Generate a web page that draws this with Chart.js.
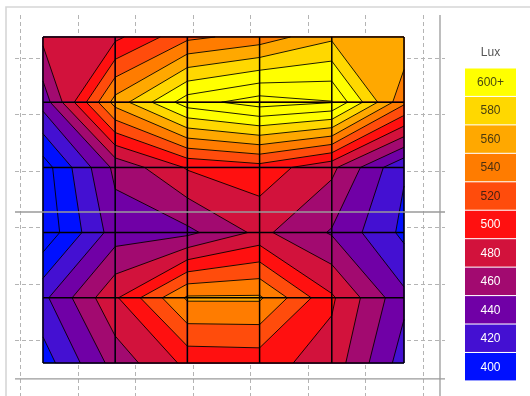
<!DOCTYPE html>
<html>
<head>
<meta charset="utf-8">
<script src="https://cdn.jsdelivr.net/npm/chart.js@4.4.1/dist/chart.umd.min.js"></script>
<style>
html,body{margin:0;padding:0;background:#ffffff;}
canvas{display:block;}
</style>
</head>
<body>
<canvas id="c" width="530" height="396"></canvas>
<script>
// ---- data ----
const colPos = [0, 1, 2, 3, 4, 5];
const rowPos = [0, 1, 2, 3, 4, 5];
const luxRow0 = [485, 495, 535, 548, 576, 575];
const luxRow1 = [448, 568, 631, 650, 641, 545];
const luxRow2 = [390, 465, 502, 512, 485, 422];
const luxRow3 = [385, 450, 455, 485, 458, 415];
const luxRow4 = [435, 497, 563, 563, 503, 445];
const luxRow5 = [410, 468, 505, 507, 492, 430];
const luxRows = [luxRow0, luxRow1, luxRow2, luxRow3, luxRow4, luxRow5];

const bandLevels = [400, 420, 440, 460, 480, 500, 520, 540, 560, 580, 600];
const bandLabels = ['400', '420', '440', '460', '480', '500', '520', '540', '560', '580', '600+'];
const bandColors = ['#0010ff', '#4410d2', '#7000a6', '#a20a70', '#d2123c', '#ff1010', '#ff4c0c', '#ff7c00', '#ffa800', '#ffd800', '#ffff00'];
const bandTextColors = ['#ffffff', '#ffffff', '#ffffff', '#ffffff', '#ffffff', '#ffffff', '#4a2010', '#4a3010', '#4a3a10', '#4a4010', '#4a4a10'];
const contourLevels = [400, 420, 440, 460, 480, 500, 520, 540, 560, 580, 600, 620, 640, 660];
const legendTitle = 'Lux';

// points for the library (invisible nodes)
const nodePoints = [];
rowPos.forEach((r, j) => colPos.forEach((c, i) => nodePoints.push({x: c, y: r, v: luxRows[j][i]})));

function clipPoly(poly, level, keepAbove) {
  const out = [];
  for (let i = 0; i < poly.length; i++) {
    const a = poly[i], b = poly[(i + 1) % poly.length];
    const ina = keepAbove ? a.v >= level : a.v <= level;
    const inb = keepAbove ? b.v >= level : b.v <= level;
    if (ina) out.push(a);
    if (ina !== inb) {
      const t = (level - a.v) / (b.v - a.v);
      out.push({x: a.x + t * (b.x - a.x), y: a.y + t * (b.y - a.y), v: level, cut: true});
    }
  }
  return out;
}

const contourPlugin = {
  id: 'contour',
  beforeDatasetsDraw(chart, args, opts) {
    const ctx = chart.ctx;
    const xs = chart.scales.x, ys = chart.scales.y;
    const gx = chart.scales.gx, gy = chart.scales.gy;
    const ca = chart.chartArea;
    ctx.save();
    // outer frame
    ctx.strokeStyle = '#d6d6d6';
    ctx.lineWidth = 1.6;
    ctx.beginPath();
    ctx.moveTo(ca.left - 9, chart.height);
    ctx.lineTo(ca.left - 9, ca.top - 8);
    ctx.lineTo(chart.width, ca.top - 8);
    ctx.stroke();

    // dashed grid
    ctx.strokeStyle = '#b4b4b4';
    ctx.lineWidth = 1;
    ctx.setLineDash([4, 3]);
    opts.gridX.forEach(v => {
      const p = Math.round(gx.getPixelForValue(v)) + 0.5;
      ctx.beginPath(); ctx.moveTo(p, ca.top); ctx.lineTo(p, ca.bottom); ctx.stroke();
    });
    opts.gridY.forEach(v => {
      const p = Math.round(gy.getPixelForValue(v)) + 0.5;
      ctx.beginPath(); ctx.moveTo(ca.left, p); ctx.lineTo(ca.right, p); ctx.stroke();
    });
    ctx.setLineDash([]);

    const P = (i, j) => ({x: xs.getPixelForValue(colPos[i]), y: ys.getPixelForValue(rowPos[j]), v: luxRows[j][i]});
    const fillPoly = (poly, color) => {
      if (poly.length < 3) return;
      ctx.fillStyle = color;
      ctx.strokeStyle = color;
      ctx.lineWidth = 0.6;
      ctx.beginPath();
      ctx.moveTo(poly[0].x, poly[0].y);
      for (let k = 1; k < poly.length; k++) ctx.lineTo(poly[k].x, poly[k].y);
      ctx.closePath();
      ctx.fill();
      ctx.stroke();
    };
    // filled bands
    for (let j = 0; j < rowPos.length - 1; j++) {
      for (let i = 0; i < colPos.length - 1; i++) {
        const quad = [P(i, j), P(i + 1, j), P(i + 1, j + 1), P(i, j + 1)];
        fillPoly(quad, bandColors[0]);
        for (let b = 1; b < bandLevels.length; b++) {
          fillPoly(clipPoly(quad, bandLevels[b], true), bandColors[b]);
        }
      }
    }
    // contour lines
    ctx.strokeStyle = 'rgba(0,0,0,0.88)';
    ctx.lineWidth = 1;
    ctx.beginPath();
    for (let j = 0; j < rowPos.length - 1; j++) {
      for (let i = 0; i < colPos.length - 1; i++) {
        const quad = [P(i, j), P(i + 1, j), P(i + 1, j + 1), P(i, j + 1)];
        contourLevels.forEach(L => {
          const poly = clipPoly(quad, L, true);
          for (let k = 0; k < poly.length; k++) {
            const a = poly[k], b = poly[(k + 1) % poly.length];
            if (a.cut && b.cut && poly.length > 2) {
              ctx.moveTo(a.x, a.y); ctx.lineTo(b.x, b.y);
            }
          }
        });
      }
    }
    ctx.stroke();

    // cell grid
    ctx.strokeStyle = '#000000';
    ctx.lineWidth = 1.5;
    const x0 = xs.getPixelForValue(colPos[0]), x1 = xs.getPixelForValue(colPos[colPos.length - 1]);
    const y0 = ys.getPixelForValue(rowPos[0]), y1 = ys.getPixelForValue(rowPos[rowPos.length - 1]);
    ctx.beginPath();
    colPos.forEach(c => { const p = xs.getPixelForValue(c); ctx.moveTo(p, y0); ctx.lineTo(p, y1); });
    rowPos.forEach(r => { const p = ys.getPixelForValue(r); ctx.moveTo(x0, p); ctx.lineTo(x1, p); });
    ctx.stroke();

    // solid panel lines
    ctx.strokeStyle = '#9a9a9a';
    ctx.lineWidth = 1.3;
    opts.solidY.forEach(v => {
      const p = gy.getPixelForValue(v);
      ctx.beginPath(); ctx.moveTo(ca.left, p); ctx.lineTo(ca.right, p); ctx.stroke();
    });
    opts.solidX.forEach(v => {
      const p = gx.getPixelForValue(v);
      ctx.beginPath(); ctx.moveTo(p, ca.top); ctx.lineTo(p, ca.bottom); ctx.stroke();
    });
    ctx.restore();
  },
  afterDraw(chart, args, opts) {
    const ctx = chart.ctx;
    const L = opts.legend;
    ctx.save();
    ctx.textAlign = 'center';
    ctx.textBaseline = 'middle';
    ctx.font = '12px "Liberation Sans", Arial, sans-serif';
    ctx.fillStyle = '#555555';
    ctx.fillText(legendTitle, L.x + L.w / 2, L.titleY);
    const n = bandLabels.length;
    for (let k = 0; k < n; k++) {
      const b = n - 1 - k;
      const top = L.top + k * L.pitch;
      ctx.fillStyle = bandColors[b];
      ctx.fillRect(L.x, top, L.w, L.h);
      ctx.fillStyle = bandTextColors[b];
      ctx.fillText(bandLabels[b], L.x + L.w / 2, top + L.h / 2 + 0.5);
    }
    ctx.restore();
  }
};

new Chart(document.getElementById('c'), {
  type: 'scatter',
  data: {
    datasets: [{
      label: 'Lux',
      data: nodePoints,
      pointRadius: 0,
      pointHoverRadius: 0,
      showLine: false
    }]
  },
  options: {
    responsive: false,
    animation: false,
    devicePixelRatio: 1,
    events: [],
    layout: {padding: {left: 15, top: 15, right: 85, bottom: 0}},
    scales: {
      x: {type: 'linear', display: false, min: -0.3878, max: 5.568},
      y: {type: 'linear', display: false, reverse: true, min: -0.3374, max: 5.506},
      gx: {type: 'linear', axis: 'x', position: 'bottom', display: false, min: -0.087, max: 7.391},
      gy: {type: 'linear', axis: 'y', position: 'left', display: false, reverse: true, min: -0.762, max: 5.993}
    },
    plugins: {
      legend: {display: false},
      tooltip: {enabled: false},
      contour: {
        gridX: [0, 1, 2, 3, 4, 5, 6, 7],
        gridY: [0, 1, 2, 3, 4, 5],
        solidY: [2.7305, 5.691],
        solidX: [7.304],
        legend: {x: 465, w: 51, top: 68.5, pitch: 28.45, h: 27.4, titleY: 53}
      }
    }
  },
  plugins: [contourPlugin]
});
</script>
</body>
</html>
